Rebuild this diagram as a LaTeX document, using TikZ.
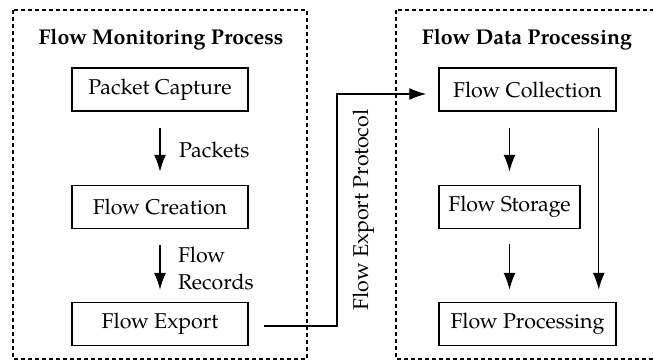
\documentclass[tikz,border=0pt]{standalone}
\usepackage{fontspec}
\setmainfont{TeX Gyre Pagella}
\usetikzlibrary{arrows.meta,calc}
\begin{document}
\begin{tikzpicture}[x=0.5pt,y=-0.5pt,
  every node/.style={font=\fontsize{10.7}{13.5}\selectfont},
  procbox/.style={draw,line width=0.75pt,minimum height=21.5pt,inner sep=0pt},
  region/.style={draw,line width=0.55pt,dash pattern=on 2pt off 1.5pt},
  arr/.style={line width=0.7pt,-{Latex[length=8.5pt,width=6pt]}},
  ttl/.style={font=\fontsize{10.7}{13.5}\selectfont\bfseries}]
\useasboundingbox (0,0) rectangle (653,361);
\draw[region] (13,10) rectangle (307,359);
\draw[region] (396,10) rectangle (680,359);
\node[ttl] (t1) at (161,40) {Flow Monitoring Process};
\node[ttl] (t2) at (527,40) {Flow Data Processing};
\node[procbox,minimum width=88pt] (pc) at (160,89.5) {Packet Capture};
\node[procbox,minimum width=88pt] (fc) at (160,207) {Flow Creation};
\node[procbox,minimum width=88pt] (fe) at (160,324) {Flow Export};
\node[procbox,minimum width=88.5pt] (col) at (527.5,89.5) {Flow Collection};
\node[procbox,minimum width=70.5pt] (sto) at (509.5,207) {Flow Storage};
\node[procbox,minimum width=88.5pt] (proc) at (527.5,324) {Flow Processing};
\draw[arr] ($(pc.south)+(0,16)$) -- ($(fc.north)+(0,-13)$);
\draw[arr] ($(fc.south)+(0,16)$) -- ($(fe.north)+(0,-12)$);
\node[anchor=west] (lp) at (172,150) {Packets};
\node[anchor=west,align=left] (lr) at (171,268.5) {Flow\\Records};
\draw[arr] ($(sto.north |- col.south)+(0,16)$) -- ($(sto.north)+(0,-13)$);
\draw[arr] ($(sto.south)+(0,15)$) -- ($(sto.south |- proc.north)+(0,-12)$);
\draw[arr] ($(col.south east)+(-18,16)$) -- ($(proc.north east)+(-18,-12)$);
\coordinate (p1) at ($(fe.east)+(15,2)$);
\coordinate (p2) at ($(col.west)+(-12,4.5)$);
\coordinate (pm) at (337,0);
\draw[arr] (p1) -| (pm |- p2) -- (p2);
\node[rotate=90] (lbl) at (364,210) {Flow Export Protocol};
\end{tikzpicture}
\end{document}
